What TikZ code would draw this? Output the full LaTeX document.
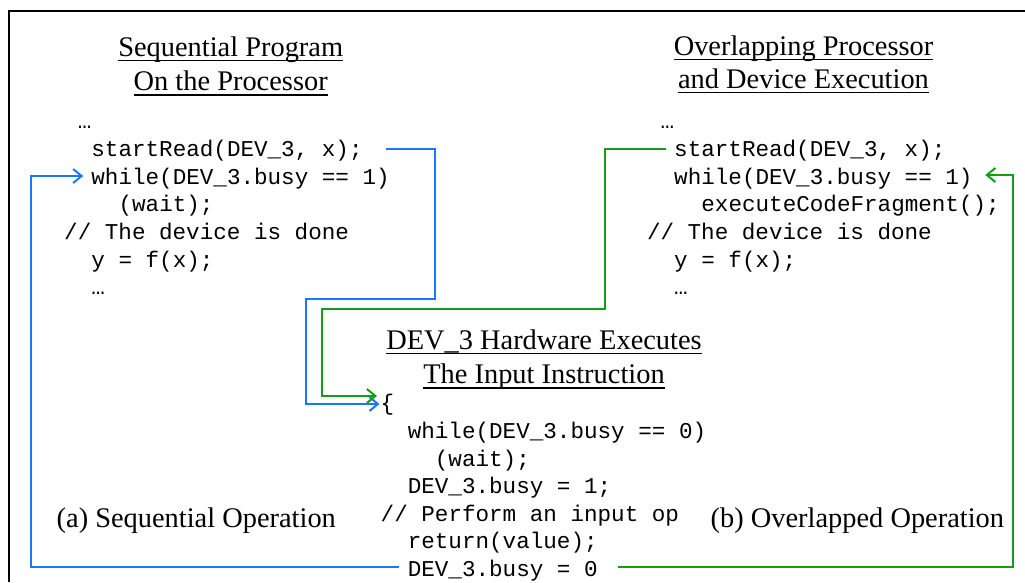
\documentclass[tikz,border=0pt]{standalone}
\usepackage{fontspec}
\setmainfont{Liberation Serif}
\setmonofont{Liberation Mono}
\usetikzlibrary{arrows.meta,calc}

\definecolor{seqblue}{RGB}{26,117,255}
\definecolor{ovlgreen}{RGB}{20,158,20}

% underlined heading text with a rule just below the baseline
\newsavebox\ulbox
\newcommand\ulin[1]{\sbox\ulbox{#1}\rlap{\rule[-5.2pt]{\wd\ulbox}{1.5pt}}\usebox\ulbox}

\tikzset{
  heading/.style={anchor=base, inner sep=0pt, font=\fontsize{28.4}{34}\selectfont},
  caption/.style={anchor=base west, inner sep=0pt, font=\fontsize{28.4}{34}\selectfont},
  code/.style={anchor=base west, inner sep=0pt, font=\ttfamily\fontsize{22.6}{27}\selectfont},
  flow/.style={line width=2pt, -{Straight Barb[length=8.5pt,width=14pt]}}
}

\begin{document}
\begin{tikzpicture}[x=1pt,y=-1pt]
\useasboundingbox (0,0) rectangle (1025,582);

% outer frame (open to the right and bottom)
\draw[line width=2.8pt] (9,582) -- (9,11) -- (1025,11);

% headings
\node[heading] (t1a) at (230.7,56)   {\ulin{Sequential Program}};
\node[heading] (t1b) at (230.7,90.5) {\ulin{On the Processor}};
\node[heading] (t2a) at (803.5,55)   {\ulin{Overlapping Processor}};
\node[heading] (t2b) at (803.5,88)   {\ulin{and Device Execution}};
\node[heading] (t3a) at (544,349)    {\ulin{DEV\_3 Hardware Executes}};
\node[heading] (t3b) at (544,383.5)  {\ulin{The Input Instruction}};

% sequential program
\node[code] (l0) at (77.6,128)  {…};
\node[code] (l1) at (91.2,156)  {startRead(DEV\_3, x);};
\node[code] (l2) at (91.2,184)  {while(DEV\_3.busy == 1)};
\node[code] (l3) at (118.4,211) {(wait);};
\node[code] (l4) at (64,239)    {// The device is done};
\node[code] (l5) at (91.2,267)  {y = f(x);};
\node[code] (l6) at (91.2,294)  {…};

% overlapped program
\node[code] (r0) at (660.4,128) {…};
\node[code] (r1) at (674,156)   {startRead(DEV\_3, x);};
\node[code] (r2) at (674,184)   {while(DEV\_3.busy == 1)};
\node[code] (r3) at (701.2,211) {executeCodeFragment();};
\node[code] (r4) at (646.8,239) {// The device is done};
\node[code] (r5) at (674,267)   {y = f(x);};
\node[code] (r6) at (674,294)   {…};

% device side
\node[code] (m0) at (380.5,410) {\{};
\node[code] (m1) at (407.6,438) {while(DEV\_3.busy == 0)};
\node[code] (m2) at (434.7,466) {(wait);};
\node[code] (m3) at (407.6,493) {DEV\_3.busy = 1;};
\node[code] (m4) at (380.5,521) {// Perform an input op};
\node[code] (m5) at (407.6,548) {return(value);};
\node[code] (m6) at (407.6,576) {DEV\_3.busy = 0};

% captions
\node[caption] (ca) at (56.5,527)  {(a) Sequential Operation};
\node[caption] (cb) at (710.5,527) {(b) Overlapped Operation};

% sequential control flow
\draw[flow, seqblue] ($(l1.base east)+(23,-7)$) -| (435,299) -- (306,299)
  |- ($(m0.base west)+(-1,-6)$);
\draw[flow, seqblue] ($(m6.base west)+(-9,-9)$) -| ($(l2.base west)+(-60.2,-8)$)
  -- ($(l2.base west)+(-8,-8)$);

% overlapped control flow
\draw[flow, ovlgreen] ($(r1.base west)+(-8,-7)$) -| (605,309) -- (322,309)
  |- ($(m0.base west)+(-3.5,-14)$);
\draw[flow, ovlgreen] ($(m6.base east)+(20.6,-9)$) -| (1013,175)
  -- ($(r2.base east)+(12.5,-9)$);
\end{tikzpicture}
\end{document}
